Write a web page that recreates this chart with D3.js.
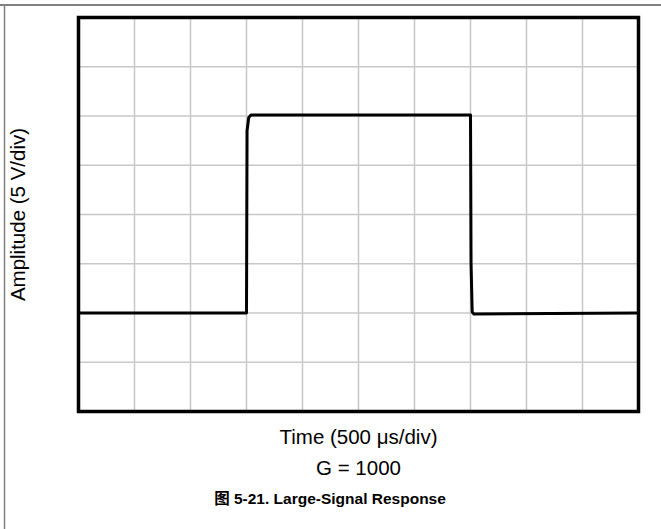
<!DOCTYPE html>
<html>
<head>
<meta charset="utf-8">
<script src="https://cdn.jsdelivr.net/npm/d3@7"></script>
<style>
  body { margin: 0; background: #fff; }
  svg { display: block; }
</style>
</head>
<body>
<svg id="chart" width="661" height="529"></svg>
<script>
// data (in divisions)
var timeDiv = [0, 3, 3.01, 3.04, 3.08, 7, 7.01, 7.03, 7.06, 10];
var ampDiv  = [2, 2, 5.7, 5.97, 6.02, 6.02, 3, 2.02, 1.98, 2];
var xTicks = d3.range(0, 11);
var yTicks = d3.range(0, 9);

var xLabel = "Time (500 \u03bcs/div)";
var yLabel = "Amplitude (5 V/div)";
var note = "G = 1000";
var caption = "\u56fe 5-21. Large-Signal Response";

var svg = d3.select("#chart");
var font = "Arial, 'Liberation Sans', sans-serif";

//Outer frame lines
svg.append("line")
    .attr("x1", 0).attr("x2", 661).attr("y1", 5).attr("y2", 5)
    .attr("stroke", "#808080").attr("stroke-width", 2);
svg.append("line")
    .attr("x1", 4.5).attr("x2", 4.5).attr("y1", 4).attr("y2", 529)
    .attr("stroke", "#808080").attr("stroke-width", 1.5);

//Plot area
var pLeft = 78.5, pRight = 638.5, pTop = 17.5, pBottom = 411.5;
var x = d3.scaleLinear().domain([0, 10]).range([pLeft, pRight]);
var y = d3.scaleLinear().domain([0, 8]).range([pBottom, pTop]);

//Grid
svg.append("g").selectAll("line")
    .data(xTicks.slice(1, -1))
    .enter().append("line")
    .attr("x1", function(d) { return x(d); })
    .attr("x2", function(d) { return x(d); })
    .attr("y1", pTop).attr("y2", pBottom)
    .attr("stroke", "#c8c8c8").attr("stroke-width", 1.5);
svg.append("g").selectAll("line")
    .data(yTicks.slice(1, -1))
    .enter().append("line")
    .attr("y1", function(d) { return y(d); })
    .attr("y2", function(d) { return y(d); })
    .attr("x1", pLeft).attr("x2", pRight)
    .attr("stroke", "#c8c8c8").attr("stroke-width", 1.5);

//Signal
var pts = timeDiv.map(function(t, i) { return [t, ampDiv[i]]; });
svg.append("path")
    .datum(pts)
    .attr("fill", "none")
    .attr("stroke", "#000")
    .attr("stroke-width", 3)
    .attr("stroke-linejoin", "round")
    .attr("d", d3.line()
        .x(function(d) { return x(d[0]); })
        .y(function(d) { return y(d[1]); }));

//Border
svg.append("rect")
    .attr("x", pLeft).attr("y", pTop)
    .attr("width", pRight - pLeft).attr("height", pBottom - pTop)
    .attr("fill", "none")
    .attr("stroke", "#000")
    .attr("stroke-width", 3.5);

//Labels
svg.append("text")
    .attr("x", (pLeft + pRight) / 2).attr("y", 444)
    .attr("text-anchor", "middle")
    .style("font-family", font).style("font-size", "20.5px")
    .text(xLabel);
svg.append("text")
    .attr("x", (pLeft + pRight) / 2).attr("y", 475)
    .attr("text-anchor", "middle")
    .style("font-family", font).style("font-size", "20.5px")
    .text(note);
svg.append("text")
    .attr("transform", "translate(25," + ((pTop + pBottom) / 2) + ") rotate(-90)")
    .attr("text-anchor", "middle")
    .style("font-family", font).style("font-size", "20.5px")
    .text(yLabel);
svg.append("text")
    .attr("x", 330).attr("y", 504)
    .attr("text-anchor", "middle")
    .style("font-family", "Arial, 'Liberation Sans', 'Noto Sans CJK SC', sans-serif")
    .style("font-size", "15.5px").style("font-weight", "bold")
    .text(caption);
</script>
</body>
</html>
